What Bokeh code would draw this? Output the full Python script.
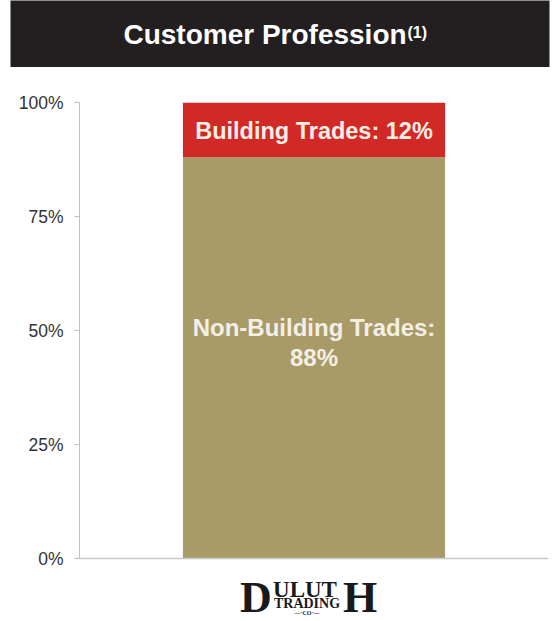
from bokeh.plotting import figure
from bokeh.models import Span, NumeralTickFormatter, FixedTicker, FactorRange, Range1d
from bokeh.layouts import column, row
from bokeh.core.properties import value
from bokeh.embed import file_html
from bokeh.resources import INLINE

# ---- data ----
title_text = "Customer Profession"
title_note = "(1)"
company = ["Duluth Trading Co."]
segments = ["Non-Building Trades", "Building Trades"]
shares = [0.88, 0.12]
seg_colors = ["#A99B67", "#D12A26"]
y_ticks = [0, 0.25, 0.5, 0.75, 1.0]

W = 552
TITLE_H = 67

# ---- title bar (data coords = pixels inside the bar) ----
t = figure(width=W, height=TITLE_H, x_range=Range1d(10, 549), y_range=Range1d(TITLE_H, 0),
           output_backend="svg", toolbar_location=None,
           background_fill_color="#231F20", border_fill_color="white",
           min_border_left=10, min_border_right=3, min_border_top=0, min_border_bottom=0,
           outline_line_color=None)
t.axis.visible = False
t.grid.visible = False
t.text(x=[264.5], y=[34], text=[title_text],
       text_align="center", text_baseline="middle",
       text_font=value("Liberation Sans"), text_font_style="bold",
       text_font_size="28px", text_color="white")
t.text(x=[407], y=[32], text=[title_note],
       text_align="left", text_baseline="middle",
       text_font=value("Liberation Sans"), text_font_style="bold",
       text_font_size="16px", text_color="white")

# ---- chart ----
p = figure(width=W, height=621 - TITLE_H, x_range=FactorRange(*company),
           y_range=Range1d(-0.138, 1.0),
           output_backend="svg", toolbar_location=None,
           min_border_left=79, min_border_right=4, min_border_top=102 - TITLE_H,
           min_border_bottom=0, outline_line_color=None,
           background_fill_color="white", border_fill_color="white")

bottoms = [0.0, shares[0]]
tops = [shares[0], shares[0] + shares[1]]
p.vbar(x=[company[0]] * 2, bottom=bottoms, top=tops, width=0.559,
       fill_color=seg_colors, line_color=None)

p.xaxis.visible = False
p.grid.visible = False
p.yaxis.bounds = (0, 1)
p.yaxis.ticker = FixedTicker(ticks=y_ticks)
p.yaxis.formatter = NumeralTickFormatter(format="0%")
p.yaxis.axis_line_color = "#BFBFBF"
p.yaxis.major_tick_line_color = "#BFBFBF"
p.yaxis.major_tick_in = 0
p.yaxis.major_tick_out = 5
p.yaxis.minor_tick_line_color = None
p.yaxis.major_label_standoff = 11
p.yaxis.major_label_text_font = "Liberation Sans"
p.yaxis.major_label_text_font_size = "17.5px"
p.yaxis.major_label_text_color = "#333333"

p.add_layout(Span(location=0, dimension="width", line_color="#C8C8C8", line_width=1.5))

# segment labels
lab_font = value("Liberation Sans")
p.text(x=[company[0]], y=[shares[0] + shares[1] / 2], y_offset=1,
       text=[f"{segments[1]}: {round(shares[1]*100)}%"],
       text_align="center", text_baseline="middle", text_font=lab_font,
       text_font_style="bold", text_font_size="23.5px", text_color="#F8EEE6")
p.text(x=[company[0]], y=[0.5], y_offset=-3,
       text=[f"{segments[0]}:"],
       text_align="center", text_baseline="middle", text_font=lab_font,
       text_font_style="bold", text_font_size="24px", text_color="#F4EFE6")
p.text(x=[company[0]], y=[0.5], y_offset=27,
       text=[f"{round(shares[0]*100)}%"],
       text_align="center", text_baseline="middle", text_font=lab_font,
       text_font_style="bold", text_font_size="24px", text_color="#F4EFE6")

# company logo (text based) below baseline
logo_font = value("Liberation Serif")
lc = "#1A1A1A"
p.text(x=[company[0]], y=[0], x_offset=-58, y_offset=39, text=["D"],
       text_align="center", text_baseline="middle", text_font=logo_font,
       text_font_style="bold", text_font_size="44px", text_color=lc)
p.text(x=[company[0]], y=[0], x_offset=-9, y_offset=31, text=["ULUT"],
       text_align="center", text_baseline="middle", text_font=logo_font,
       text_font_style="bold", text_font_size="23px", text_color=lc)
p.text(x=[company[0]], y=[0], x_offset=-7, y_offset=45, text=["TRADING"],
       text_align="center", text_baseline="middle", text_font=logo_font,
       text_font_style="bold", text_font_size="14px", text_color=lc)
p.text(x=[company[0]], y=[0], x_offset=-7, y_offset=54, text=["—·CO·—"],
       text_align="center", text_baseline="middle", text_font=logo_font,
       text_font_style="bold", text_font_size="6px", text_color=lc)
p.text(x=[company[0]], y=[0], x_offset=46, y_offset=39, text=["H"],
       text_align="center", text_baseline="middle", text_font=logo_font,
       text_font_style="bold", text_font_size="44px", text_color=lc)

layout = column(row(t), p, spacing=0)
open("out.html", "w").write(file_html(layout, INLINE))
